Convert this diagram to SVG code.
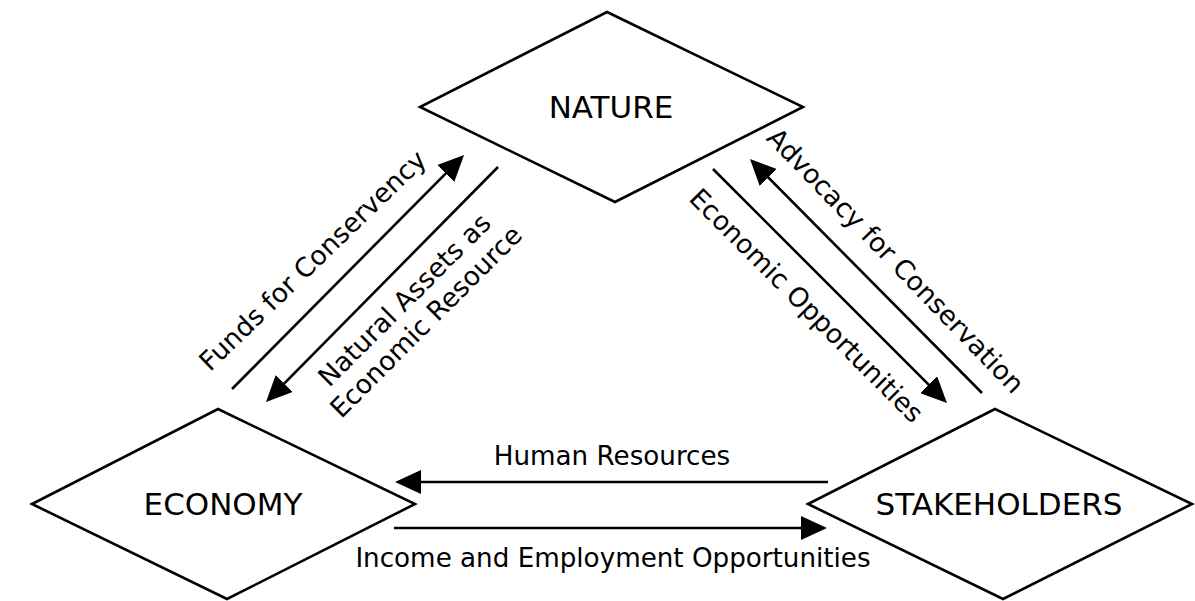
<svg xmlns="http://www.w3.org/2000/svg" width="1195" height="601" viewBox="0 0 1195 601">
  <style>
    .node { fill: #ffffff; stroke: #000000; stroke-width: 2.6; stroke-linejoin: miter; }
    .node-label { font-family: "DejaVu Sans", Verdana, sans-serif; font-size: 31px; fill: #000000; text-anchor: middle; }
    .flow { fill: none; stroke: #000000; stroke-width: 2.6; marker-end: url(#arrowhead); }
    .flow-label { font-family: "DejaVu Sans", Verdana, sans-serif; font-size: 26.5px; fill: #000000; text-anchor: middle; }
    .flow-label-h { font-size: 26.2px; }
  </style>
  <defs>
    <marker id="arrowhead" viewBox="0 0 26 24" refX="16" refY="12" markerWidth="26" markerHeight="24" markerUnits="userSpaceOnUse" orient="auto">
      <path d="M0,0 L26,12 L0,24 Z" fill="#000000"/>
    </marker>
  </defs>
  <rect width="1195" height="601" fill="#ffffff"/>

  <!-- nodes -->
  <g id="node-nature">
    <polygon class="node" points="607,12 803,107 615,202 420,107"/>
    <text class="node-label" x="611" y="118">NATURE</text>
  </g>
  <g id="node-economy">
    <polygon class="node" points="218,409 415,504 227,599 32,504"/>
    <text class="node-label" x="223" y="515">ECONOMY</text>
  </g>
  <g id="node-stakeholders">
    <polygon class="node" points="995,409 1192,504 1003,599 808,504"/>
    <text class="node-label" x="999" y="515">STAKEHOLDERS</text>
  </g>

  <!-- connectors -->
  <g id="connectors">
    <path class="flow" d="M232,389 L457,162.1"/>
    <path class="flow" d="M498,167 L273,394.9"/>
    <path class="flow" d="M982,393 L757,166.1"/>
    <path class="flow" d="M713,169 L939.9,395.9"/>
    <path class="flow" d="M828,482 L405,482"/>
    <path class="flow" d="M394,528 L817,528"/>
  </g>

  <!-- connector labels -->
  <g id="connector-labels">
    <text class="flow-label" transform="translate(319,267) rotate(-44)">Funds for Conservency</text>
    <g transform="translate(421.5,317) rotate(-45)">
      <text class="flow-label" x="0" y="-15">Natural Assets as</text>
      <text class="flow-label" x="0" y="15.5">Economic Resource</text>
    </g>
    <text class="flow-label" transform="translate(889,267) rotate(46)">Advocacy for Conservation</text>
    <text class="flow-label" transform="translate(800,312) rotate(45)">Economic Opportunities</text>
    <text class="flow-label flow-label-h" x="612" y="465">Human Resources</text>
    <text class="flow-label flow-label-h" x="613" y="567">Income and Employment Opportunities</text>
  </g>
</svg>
